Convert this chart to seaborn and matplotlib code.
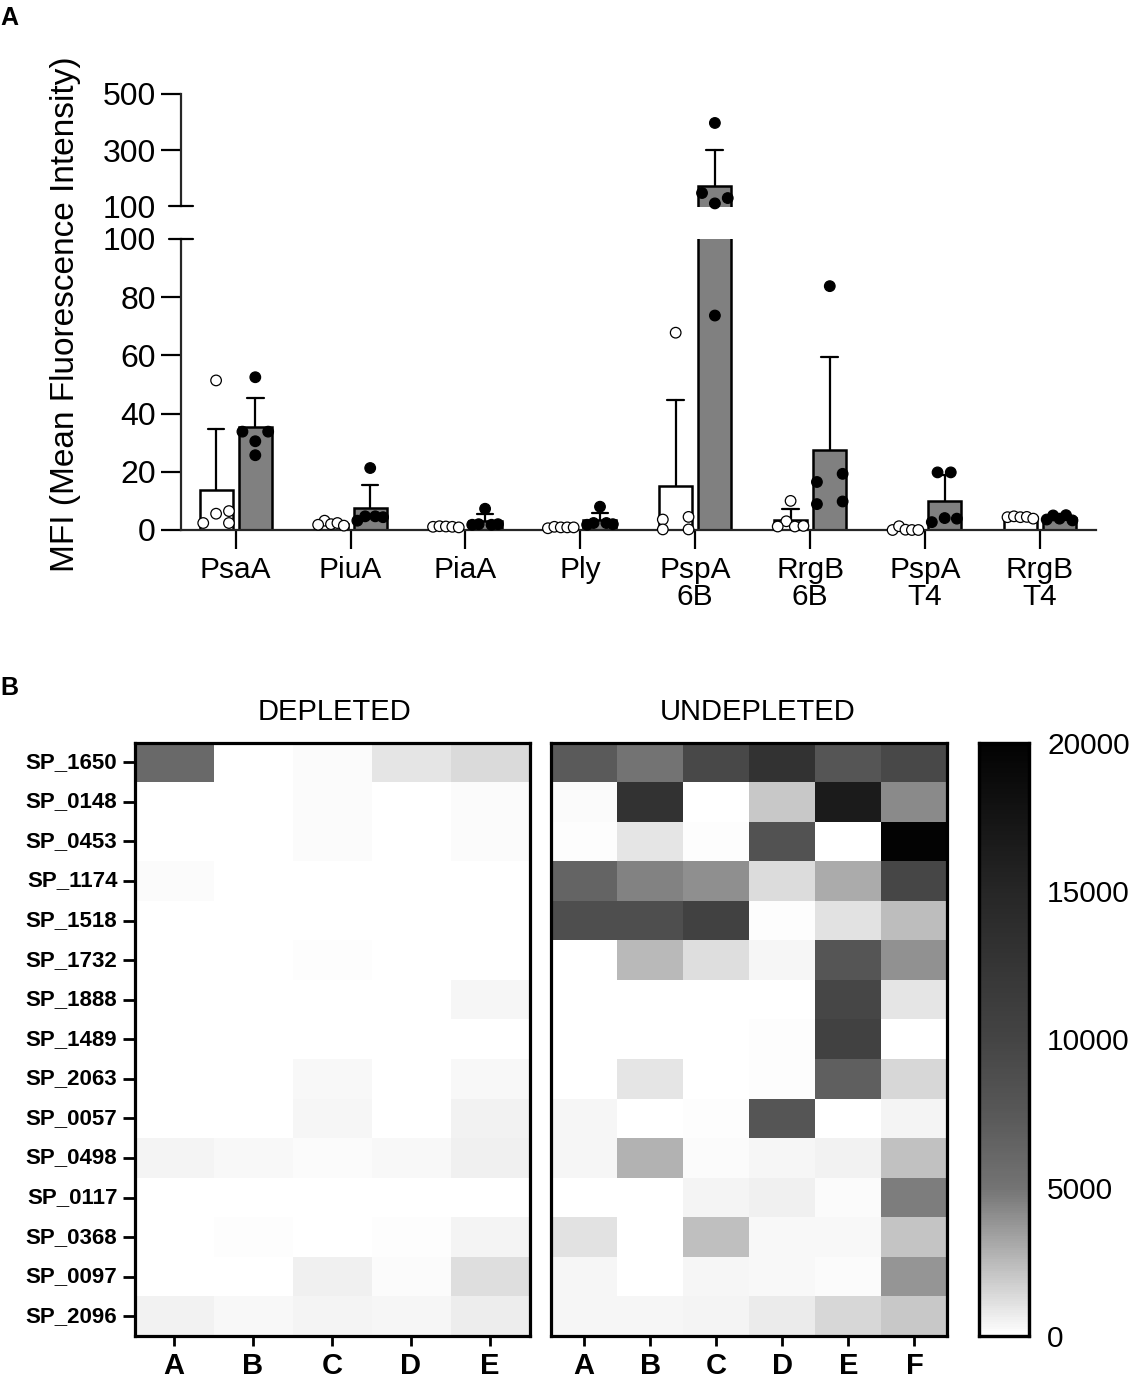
import numpy as np
import pandas as pd
import matplotlib
matplotlib.use("Agg")
import matplotlib.pyplot as plt
from matplotlib.colors import LinearSegmentedColormap
import seaborn as sns

antigens = ["PsaA", "PiuA", "PiaA", "Ply", "PspA\n6B", "RrgB\n6B", "PspA\nT4", "RrgB\nT4"]

open_values = [
    [51.4, 5.6, 6.5, 2.4, 2.4],
    [3.2, 1.8, 2.0, 2.4, 1.5],
    [1.1, 1.3, 1.2, 1.1, 0.9],
    [0.6, 1.1, 0.9, 0.9, 0.9],
    [67.8, 3.6, 4.5, 0.2, 0.2],
    [10.0, 3.0, 1.2, 1.2, 1.4],
    [0.0, 1.3, 0.1, 0.0, 0.0],
    [4.4, 4.7, 4.4, 4.5, 3.9],
]
filled_values = [
    [52.5, 33.8, 33.8, 30.5, 25.7],
    [21.3, 3.2, 4.7, 4.7, 4.4],
    [7.3, 1.8, 2.0, 1.8, 2.0],
    [8.0, 1.8, 2.4, 2.4, 2.0],
    [397, 148, 111, 130, 73.7],
    [83.8, 16.5, 19.3, 8.9, 9.8],
    [19.8, 19.8, 2.7, 4.1, 3.9],
    [3.6, 5.0, 3.9, 5.1, 3.3],
]
open_jitter = [
    [0, 0, .112, -.112, .112],
    [-.056, -.112, 0, .056, .112],
    [-.112, -.056, 0, .056, .112],
    [-.112, -.056, 0, .056, .112],
    [0, -.112, .112, -.112, .112],
    [0, -.037, -.112, .037, .112],
    [-.112, -.056, 0, .056, .112],
    [-.112, -.056, 0, .056, .112],
]
filled_jitter = [
    [0, -.112, .112, 0, 0],
    [0, -.112, -.044, .044, .112],
    [0, -.112, -.056, .056, .112],
    [0, -.112, -.056, .056, .112],
    [0, -.112, 0, .112, 0],
    [0, -.112, .112, -.112, .112],
    [-.062, .053, -.112, 0, .106],
    [-.112, -.056, 0, .056, .112],
]

genes = ["SP_1650", "SP_0148", "SP_0453", "SP_1174", "SP_1518", "SP_1732", "SP_1888", "SP_1489",
         "SP_2063", "SP_0057", "SP_0498", "SP_0117", "SP_0368", "SP_0097", "SP_2096"]
depleted_cols = ["A", "B", "C", "D", "E"]
undepleted_cols = ["A", "B", "C", "D", "E", "F"]

depleted = [
    [5900, 0, 180, 960, 1390],
    [0, 70, 180, 0, 180],
    [0, 0, 210, 70, 210],
    [180, 0, 0, 0, 0],
    [0, 0, 0, 0, 0],
    [0, 70, 110, 0, 70],
    [0, 0, 0, 70, 390],
    [0, 70, 0, 0, 70],
    [0, 0, 250, 0, 290],
    [0, 0, 320, 70, 500],
    [430, 250, 210, 250, 610],
    [0, 35, 35, 0, 70],
    [70, 140, 35, 110, 430],
    [0, 0, 610, 180, 1180],
    [540, 290, 430, 320, 680],
]
undepleted = [
    [7300, 5000, 9500, 13000, 7900, 9500],
    [180, 13000, 0, 2030, 16500, 4180],
    [110, 960, 110, 8250, 0, 19900],
    [6400, 4460, 4000, 1320, 3030, 9750],
    [8750, 8750, 10500, 140, 1070, 2390],
    [0, 2570, 1180, 360, 7900, 3930],
    [0, 0, 0, 0, 9750, 960],
    [0, 0, 0, 110, 10500, 0],
    [0, 960, 0, 110, 6850, 1430],
    [360, 0, 110, 7900, 0, 460],
    [320, 2750, 180, 320, 540, 2210],
    [0, 0, 430, 610, 180, 4640],
    [1040, 0, 2320, 250, 250, 2140],
    [390, 0, 390, 250, 180, 3820],
    [360, 320, 430, 710, 1430, 1960],
]
cbar_ticks = [0, 5000, 10000, 15000, 20000]

sns.set_theme(style="ticks")
plt.rcParams["font.family"] = ["Liberation Sans", "DejaVu Sans"]
plt.rcParams["text.color"] = "black"
plt.rcParams["axes.labelcolor"] = "black"
plt.rcParams["xtick.color"] = "black"
plt.rcParams["ytick.color"] = "black"

W, H = 1135, 1380
fig = plt.figure(figsize=(W / 100, H / 100), dpi=100)


def rect(x0, y0, x1, y1):
    return [x0 / W, 1 - y1 / H, (x1 - x0) / W, (y1 - y0) / H]


# Panel A
rows = []
for i in range(len(antigens)):
    for v, j in zip(open_values[i], open_jitter[i]):
        rows.append({"pos": i, "group": "open", "value": v, "xp": i - 0.1706 + j})
    for v, j in zip(filled_values[i], filled_jitter[i]):
        rows.append({"pos": i, "group": "filled", "value": v, "xp": i + 0.1706 + j})
df = pd.DataFrame(rows)

ax_low = fig.add_axes(rect(181.4, 239, 1095.7, 530))
ax_top = fig.add_axes(rect(181.4, 94, 1095.7, 206.5))
LW = 1.6
for ax in (ax_low, ax_top):
    sns.barplot(data=df, x="pos", y="value", hue="group", hue_order=["open", "filled"],
                palette={"open": "white", "filled": "#808080"}, native_scale=True,
                width=0.68, gap=0.155, saturation=1, errorbar="sd", capsize=0.29,
                err_kws={"color": "black", "linewidth": LW, "zorder": 1.5},
                edgecolor="black", linewidth=LW + 0.2, legend=False, zorder=2, ax=ax)
    ax.set_xlim(-0.4726, 7.485)
    ax.set_xlabel("")
    ax.set_ylabel("")
    for s in ("top", "right"):
        ax.spines[s].set_visible(False)
    ax.spines["left"].set_linewidth(LW)
    ax.spines["bottom"].set_linewidth(LW)
    ax.patch.set_alpha(0)

pts_low = df[df["value"] <= 100]
pts_top = df[df["value"] > 100]
for ax, pts in ((ax_low, pts_low), (ax_top, pts_top)):
    sns.scatterplot(data=pts, x="xp", y="value", hue="group",
                    palette={"open": "white", "filled": "black"}, edgecolor="black",
                    linewidth=0.9, s=58, legend=False, clip_on=False, zorder=5, ax=ax)
    ax.set_xlabel("")
    ax.set_ylabel("")

ax_low.set_ylim(0, 100)
ax_low.set_yticks([0, 20, 40, 60, 80, 100])
ax_low.set_xticks(range(len(antigens)))
ax_low.set_xticklabels(antigens, linespacing=0.95)
ax_low.tick_params(axis="x", length=13.7, width=LW, labelsize=21.5, pad=5)
ax_low.tick_params(axis="y", length=14.4, width=LW, labelsize=23, pad=4)

ax_top.set_ylim(100, 500)
ax_top.set_yticks([100, 300, 500])
ax_top.set_xticks([])
ax_top.spines["bottom"].set_visible(False)
ax_top.tick_params(axis="y", length=14.4, width=LW, labelsize=23, pad=4)

for ax, val in ((ax_low, 100), (ax_top, 100)):
    for t, loc in zip(ax.yaxis.get_major_ticks(), ax.get_yticks()):
        if loc == val:
            t.tick1line.set_visible(False)
    a = (168.6 - 181.4) / (1095.7 - 181.4)
    b = (193 - 181.4) / (1095.7 - 181.4)
    ax.plot([a, b], [val, val], transform=ax.get_yaxis_transform(), color="black",
            lw=LW, clip_on=False, zorder=6)

fig.text(66 / W, 1 - 314 / H, "MFI (Mean Fluorescence Intensity)", rotation=90,
         ha="center", va="center", fontsize=24)
fig.text(0.5 / W, 1 - 25 / H, "A", fontsize=18, fontweight="bold", ha="left", va="baseline")
fig.text(0.5 / W, 1 - 695 / H, "B", fontsize=18, fontweight="bold", ha="left", va="baseline")

# Panel B
cmap = LinearSegmentedColormap.from_list(
    "prism_gray",
    [(0.0, (1, 1, 1)), (0.125, (.725, .725, .725)), (0.25, (.45, .45, .45)),
     (0.375, (.345, .345, .345)), (0.5, (.267, .267, .267)), (0.75, (.149, .149, .149)),
     (1.0, (.01, .01, .01))], N=256)

ax_d = fig.add_axes(rect(134.5, 742.5, 529.5, 1336))
ax_u = fig.add_axes(rect(551, 742.5, 947.5, 1336))
cax = fig.add_axes(rect(979, 742.5, 1029, 1336))

sns.heatmap(pd.DataFrame(depleted, index=genes, columns=depleted_cols), cmap=cmap, vmin=0, vmax=20000,
            cbar=False, ax=ax_d)
sns.heatmap(pd.DataFrame(undepleted, index=genes, columns=undepleted_cols), cmap=cmap, vmin=0, vmax=20000,
            cbar=True, cbar_ax=cax, cbar_kws={"ticks": cbar_ticks}, yticklabels=False, ax=ax_u)

FR = 2.3
for ax in (ax_d, ax_u):
    for s in ax.spines.values():
        s.set_visible(True)
        s.set_linewidth(FR)
        s.set_color("black")
    ax.set_xticklabels(ax.get_xticklabels(), rotation=0, fontweight="bold", fontsize=21)
    ax.tick_params(axis="x", length=7.5, width=2, pad=4, bottom=True)
ax_d.set_yticklabels(genes, rotation=0, fontweight="bold", fontsize=16)
ax_d.tick_params(axis="y", length=8.3, width=2, pad=4, left=True)
ax_u.tick_params(axis="y", left=False)

for s in cax.spines.values():
    s.set_visible(True)
    s.set_linewidth(FR)
    s.set_color("black")
cax.tick_params(axis="y", direction="in", left=True, right=True, labelleft=False, labelright=True,
                length=7, width=2, labelsize=21.5, pad=13)

fig.text(335 / W, 1 - 712 / H, "DEPLETED", ha="center", va="center", fontsize=21)
fig.text(758 / W, 1 - 712 / H, "UNDEPLETED", ha="center", va="center", fontsize=21)

fig.savefig("out.png", dpi=100)
